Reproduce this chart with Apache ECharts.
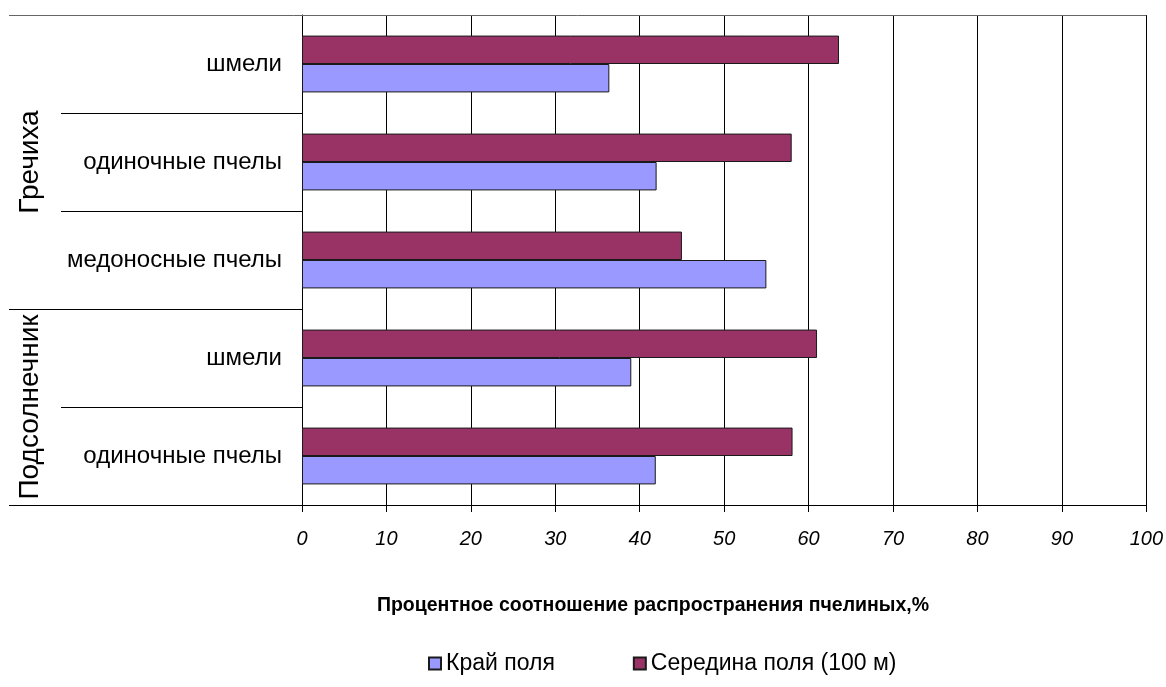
<!DOCTYPE html>
<html>
<head>
<meta charset="utf-8">
<script src="https://cdn.jsdelivr.net/npm/echarts@6/dist/echarts.min.js"></script>
<style>
  html, body { margin: 0; padding: 0; background: #fff; }
  #chart { width: 1166px; height: 687px; }
</style>
</head>
<body>
<div id="chart"></div>
<script>
// Rows from bottom to top: crop and bee group
const crops   = ['Подсолнечник', 'Подсолнечник', 'Гречиха', 'Гречиха', 'Гречиха'];
const species = ['одиночные пчелы', 'шмели', 'медоносные пчелы', 'одиночные пчелы', 'шмели'];
const seriesNames = ['Край поля', 'Середина поля (100 м)'];
const edgeValues   = [41.9, 39.0, 55.0, 42.0, 36.4];   // Край поля, %
const middleValues = [58.1, 61.0, 45.0, 58.0, 63.6];   // Середина поля (100 м), %
const axisTitle = 'Процентное соотношение распространения пчелиных,%';

const FONT = '"Liberation Sans", Arial, sans-serif';
const categoryKeys = species.map((s, i) => i + '|' + s);

const chart = echarts.init(document.getElementById('chart'), null, { renderer: 'canvas' });

chart.setOption({
  animation: false,
  backgroundColor: '#fff',
  textStyle: { fontFamily: FONT },
  grid: { left: 302, right: 18, top: 15, bottom: 182, containLabel: false },
  legend: {
    data: seriesNames,
    left: 423, top: 647,
    icon: 'rect',
    itemWidth: 12, itemHeight: 12,
    itemGap: 78,
    textStyle: { fontSize: 23, color: '#000', fontFamily: FONT }
  },
  xAxis: {
    type: 'value',
    min: 0, max: 100, interval: 10,
    axisLine: { show: true, lineStyle: { color: '#000', width: 1 } },
    axisTick: { show: true, length: 7, lineStyle: { color: '#000' } },
    axisLabel: { fontSize: 20, fontStyle: 'italic', color: '#000', margin: 24, fontFamily: FONT },
    splitLine: { show: true, lineStyle: { color: '#000', width: 1 } }
  },
  yAxis: {
    type: 'category',
    data: categoryKeys,
    axisLine: { show: true, lineStyle: { color: '#000', width: 1 } },
    axisTick: { show: false },
    axisLabel: {
      fontSize: 24, color: '#000', margin: 20, fontFamily: FONT,
      formatter: v => v.split('|')[1]
    },
    splitLine: { show: false }
  },
  // the middle-of-field bar sits above the edge bar in every row
  series: [
    {
      name: seriesNames[1], type: 'bar', data: middleValues,
      barGap: '0%', barCategoryGap: '42%',
      itemStyle: { color: '#993366', borderColor: '#1a1a1a', borderWidth: 1 }
    },
    {
      name: seriesNames[0], type: 'bar', data: edgeValues,
      barGap: '0%', barCategoryGap: '42%',
      itemStyle: { color: '#9999FF', borderColor: '#1a1a1a', borderWidth: 1 }
    }
  ]
});

// Row separators, group labels and the axis title, placed from the axis scales
function yAt(i) { return chart.convertToPixel({ yAxisIndex: 0 }, i); }
const band = Math.abs(yAt(0) - yAt(1));
const boundary = k => yAt(0) + band / 2 - k * band;   // k = 0 .. n
const x0 = chart.convertToPixel({ xAxisIndex: 0 }, 0);
const x100 = chart.convertToPixel({ xAxisIndex: 0 }, 100);
const n = categoryKeys.length;

const elements = [];
for (let k = 0; k <= n; k++) {
  const isGroupEdge = k === 0 || k === n || crops[k] !== crops[k - 1];
  const y = Math.round(boundary(k)) + 0.5;
  elements.push({
    type: 'line',
    shape: { x1: isGroupEdge ? 9 : 61, y1: y, x2: k === n ? x100 : x0, y2: y },
    style: { stroke: k === n ? '#666' : '#000', lineWidth: 1 },
    z: 10
  });
}
const groupNames = [...new Set(crops)];
groupNames.forEach(g => {
  const idx = crops.map((c, i) => c === g ? i : -1).filter(i => i >= 0);
  const lo = Math.min(...idx), hi = Math.max(...idx);
  const yc = (boundary(lo) + boundary(hi + 1)) / 2;
  elements.push({
    type: 'text',
    x: 30, y: yc,
    rotation: Math.PI / 2,
    style: {
      text: g, fontSize: 28, fontFamily: FONT, fill: '#000',
      align: 'center', verticalAlign: 'middle'
    },
    z: 10
  });
});
elements.push({
  type: 'text',
  x: 653, y: 606,
  style: {
    text: axisTitle, fontSize: 19.5, fontWeight: 'bold', fontFamily: FONT, fill: '#000',
    align: 'center', verticalAlign: 'middle'
  },
  z: 10
});

chart.setOption({ graphic: { elements } });
</script>
</body>
</html>
